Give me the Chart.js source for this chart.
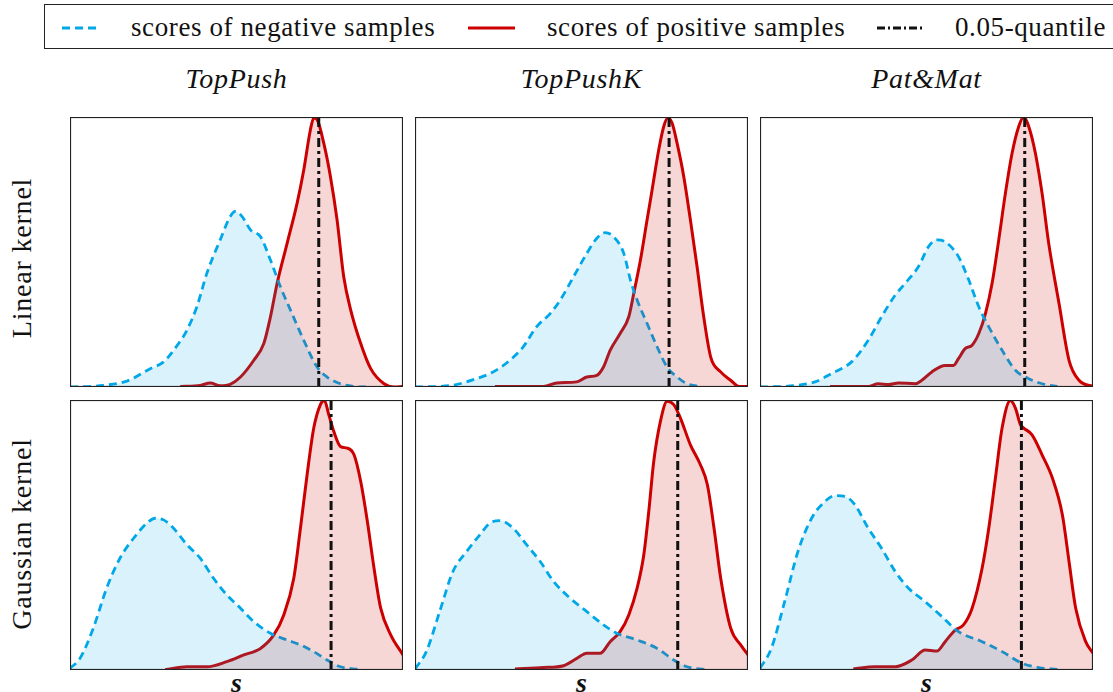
<!DOCTYPE html>
<html>
<head>
<meta charset="utf-8">
<script src="https://cdn.jsdelivr.net/npm/chart.js@4.4.1/dist/chart.umd.min.js"></script>
<style>
  body { margin: 0; width: 1113px; height: 692px; overflow: hidden; background: #fff; position: relative; font-family: "Liberation Serif", serif; color: #111; }
  .abs { position: absolute; }
  .legend { left: 44px; top: 4px; width: 1100px; height: 45px; border: 1.3px solid #222; box-sizing: border-box; }
  .ltext { position: absolute; top: 4px; height: 46px; line-height: 46px; font-size: 27px; letter-spacing: 0.6px; white-space: nowrap; }
  .title { position: absolute; width: 333px; text-align: center; top: 63px; line-height: 32px; font-size: 28px; letter-spacing: 0.7px; font-style: italic; }
  .rowlab { position: absolute; width: 270px; height: 32px; line-height: 32px; text-align: center; font-size: 28px; letter-spacing: 0.8px; transform: rotate(-90deg); white-space: nowrap; }
  .xlab { position: absolute; width: 333px; text-align: center; top: 667px; line-height: 32px; font-size: 28px; font-style: italic; font-weight: bold; }
  canvas { position: absolute; }
</style>
</head>
<body>
<div class="abs legend"></div>
<svg class="abs" style="left:0;top:0" width="1113" height="60">
  <line x1="62" y1="28" x2="101" y2="28" stroke="#00a8e8" stroke-width="3" stroke-dasharray="8,5"/>
  <line x1="468" y1="28" x2="515" y2="28" stroke="#cc0000" stroke-width="3"/>
  <line x1="877" y1="28" x2="925" y2="28" stroke="#111" stroke-width="3" stroke-dasharray="8,3,2,3"/>
</svg>
<div class="ltext" style="left:131px">scores of negative samples</div>
<div class="ltext" style="left:547px">scores of positive samples</div>
<div class="ltext" style="left:955px">0.05-quantile</div>
<div id="labels"></div>

<script>
// column / row headers
const methods = ['TopPush', 'TopPushK', 'Pat&Mat'];
const kernels = ['Linear kernel', 'Gaussian kernel'];
const xLabel = 's';

// density curves, [score, density] (both axes 0..100)
const negLinTopPush = [[0,0],[10,0.6],[17.1,2.2],[24.1,6.8],[28.1,9.3],[32.6,16.1],[35.1,21],[38.1,29.7],[41.1,42.1],[45.1,54.5],[48.1,63.1],[49.6,65],[51.7,63.1],[54.2,58.2],[57.2,55.7],[60.2,47],[63.2,37.1],[66.2,28.5],[70.2,17.3],[74.2,7.4],[77.2,3.7],[81.2,1.2],[85.3,0.2],[88.8,0]];
const posLinTopPush = [[33.1,0.2],[39.1,0.6],[42.1,1.5],[45.1,0.5],[48.1,1],[51.2,3.7],[55.2,9.9],[58.2,16.1],[60.2,26],[62.2,38.4],[65.2,53.2],[68.2,68.1],[70.2,80.4],[72.2,95.3],[73.2,99.6],[74.2,99],[76.2,90.3],[78.2,78],[80.2,61.9],[82.2,40.8],[84.3,28.5],[87.3,16.1],[90.3,6.8],[94.3,1.2],[97.3,0],[100,0.2]];

const negLinTopPushK = [[0,0],[10.4,0.5],[18.5,3.1],[23.5,5.6],[28.5,9.9],[32.5,14.9],[36.5,22.3],[40.6,27.2],[43.6,32.2],[47.6,40.8],[51.6,49.5],[54.6,55.1],[57.1,57.2],[59.6,55.7],[62.7,49.5],[64.7,39.6],[66.7,32.2],[69.7,23.5],[72.7,14.9],[75.7,7.4],[78.7,3.7],[81.7,1.2],[85.2,0.2]];
const posLinTopPushK = [[24,0.2],[38.6,0.2],[42.6,1.5],[48.6,1.9],[51.6,3.7],[54.6,4.3],[56.6,7.4],[58.6,13.6],[61.6,19.8],[64.2,26],[65.7,34.7],[67.7,47],[69.7,61.9],[71.2,73],[73.2,87.9],[74.7,96.5],[75.9,99.6],[77.2,97.8],[78.7,90.3],[80.7,78],[82.7,61.9],[84.7,44.6],[86.7,26],[88.8,11.1],[91.8,5.6],[94.8,2.5],[97.3,0.2],[100,0.2]];

const negLinPatMat = [[0,0],[10.4,0.5],[16.5,1.9],[21.5,5],[27.5,9.3],[32.5,17.3],[36.5,26],[40.6,34],[43.6,38.4],[47.6,44.6],[50.6,52],[53.1,54.5],[55.6,53.8],[59.6,48.3],[62.7,39.6],[65.7,29.7],[68.7,22.3],[72.7,13.6],[76.7,6.2],[80.7,3.1],[84.7,1.2],[89.3,0.2]];
const posLinPatMat = [[21,0.2],[32.5,0.2],[35.5,1.2],[38.6,0.9],[41.6,1.5],[46.6,1.2],[48.6,2.5],[51.6,5.6],[55.6,8],[58.1,8],[59.6,10.5],[61.6,14.2],[63.7,15.5],[65.7,19.8],[67.7,27.2],[69.7,38.4],[71.7,54.5],[73.7,71.8],[75.7,86.6],[77.7,96.5],[79.2,100],[80.7,96.5],[82.7,86.6],[84.7,71.8],[86.7,53.2],[89.8,30.9],[92.8,9.9],[95.8,2.5],[100,0.2]];

const negGauTopPush = [[0,0.6],[3,4.3],[7,15.5],[11,30.3],[15,41.4],[19.1,48.8],[23.1,54.4],[25.6,56.2],[28.1,55.6],[31.1,52.5],[35.1,46.4],[39.1,41.4],[43.1,34],[47.1,27.8],[51.2,22.9],[55.2,17.9],[60.2,13.6],[65.2,11.1],[69.2,9.3],[73.2,6.8],[77.2,3.7],[81.2,1.2],[86.8,0.2]];
const posGauTopPush = [[28.6,0.2],[35.1,1.2],[41.1,1.2],[47.1,3.1],[52.2,5.6],[57.2,8],[61.2,13],[64.2,20.4],[67.2,34],[69.2,52.5],[71.2,72.3],[73.2,89.6],[75.2,98.3],[76.4,99.8],[77.7,94.6],[79.2,88.4],[81.2,82.8],[83.2,82.2],[85.3,79.7],[87.3,69.8],[89.3,55],[91.3,37.7],[93.3,22.9],[96.3,13],[100,5.6]];

const negGauTopPushK = [[0,0.4],[3.4,6.8],[7.4,21.6],[11.4,36.5],[15.5,43.9],[19.5,50.1],[22.5,54.4],[25.5,55.3],[29.5,52.5],[33.5,46.4],[37.6,40.2],[41.6,32.8],[46.6,26.6],[51.6,21.6],[56.6,16.7],[60.6,13.6],[66.7,11.1],[72.7,8],[77.7,3.7],[81.7,1.2],[87.2,0.2]];
const posGauTopPushK = [[30,0.4],[38.6,0.9],[44.6,1.6],[48.6,4.3],[51.6,6.2],[55.6,6.2],[58.6,10.5],[61.6,14.2],[64.2,20.4],[66.7,30.3],[68.7,42.6],[70.2,58.7],[71.7,77.3],[73.7,92.1],[75.7,99.5],[77.7,98.3],[79.7,93.3],[82.7,83.4],[85.7,76],[87.8,68.6],[89.8,52.5],[91.8,34],[94.8,15.5],[97.8,9.3],[100,5.6]];

const negGauPatMat = [[0,0.6],[3.4,8],[7.4,25.3],[11.4,43.9],[15.5,56.2],[19.5,62.4],[22.5,64.6],[25.5,64.3],[28.5,61.2],[32.5,52.5],[36.5,45.1],[40.6,36.5],[44.6,30.3],[49.6,25.3],[54.6,19.8],[59.6,14.2],[66.7,10.5],[72.7,6.8],[78.7,2.5],[83.7,0.9],[89.3,0.2]];
const posGauPatMat = [[28,0.4],[34.5,1.2],[40.6,1.2],[45.6,3.7],[49.6,7.4],[53.1,7],[55.6,10.5],[58.6,14.8],[61.1,16.7],[63.7,22.9],[66.7,37.7],[68.7,52.5],[70.7,71.1],[72.7,89.6],[75.2,99.8],[76.7,97],[78.2,90.9],[79.2,89.6],[81.7,87.1],[84.7,79.7],[87.8,71.1],[90.8,57.5],[92.8,40.2],[94.8,22.9],[97.8,10.5],[100,6.2]];

// 0.05-quantile positions, row by row
const quantiles = [74.7, 76.3, 79.5, 78.4, 78.9, 78.5];

const negSets = [negLinTopPush, negLinTopPushK, negLinPatMat, negGauTopPush, negGauTopPushK, negGauPatMat];
const posSets = [posLinTopPush, posLinTopPushK, posLinPatMat, posGauTopPush, posGauTopPushK, posGauPatMat];

const colLeft = [70, 415, 760];
const rowTop = [117, 400];
const rowLabelY = [258, 534];
const panelW = 333, panelH = 270;

const labels = document.getElementById('labels');
methods.forEach((m, i) => {
  const d = document.createElement('div');
  d.className = 'title';
  d.style.left = colLeft[i] + 'px';
  d.innerText = m;
  labels.appendChild(d);

  const s = document.createElement('div');
  s.className = 'xlab';
  s.style.left = colLeft[i] + 'px';
  s.innerText = xLabel;
  labels.appendChild(s);
});
kernels.forEach((k, j) => {
  const d = document.createElement('div');
  d.className = 'rowlab';
  d.style.left = (22 - 135) + 'px';
  d.style.top = (rowLabelY[j] - 16) + 'px';
  d.innerText = k;
  labels.appendChild(d);
});

const frame = {
  id: 'frame',
  afterDraw(chart) {
    const { ctx, chartArea: a } = chart;
    ctx.save();
    ctx.strokeStyle = '#222';
    ctx.lineWidth = 1.2;
    ctx.strokeRect(a.left + 0.5, a.top + 0.5, a.right - a.left - 1, a.bottom - a.top - 1);
    ctx.restore();
  }
};

const toXY = arr => arr.map(([x, y]) => ({ x, y }));

for (let i = 0; i < 6; i++) {
  const c = document.createElement('canvas');
  c.width = panelW; c.height = panelH;
  c.style.left = colLeft[i % 3] + 'px';
  c.style.top = rowTop[Math.floor(i / 3)] + 'px';
  document.body.appendChild(c);

  const neg = toXY(negSets[i]);
  const pos = toXY(posSets[i]);
  const curve = { pointRadius: 0, cubicInterpolationMode: 'monotone' };

  // datasets with lower index are painted later: fills go over both curves
  new Chart(c, {
    type: 'line',
    data: {
      datasets: [
        {
          label: '0.05-quantile',
          data: [{ x: quantiles[i], y: 0 }, { x: quantiles[i], y: 100 }],
          borderColor: '#111',
          borderWidth: 3,
          borderDash: [9, 4, 3, 4],
          fill: false,
          pointRadius: 0
        },
        { ...curve, data: neg, borderWidth: 0, borderColor: 'rgba(0,0,0,0)', backgroundColor: 'rgba(0,168,232,0.15)', fill: 'origin' },
        { ...curve, data: pos, borderWidth: 0, borderColor: 'rgba(0,0,0,0)', backgroundColor: 'rgba(204,0,0,0.16)', fill: 'origin' },
        { ...curve, label: 'scores of negative samples', data: neg, borderColor: '#00a8e8', borderWidth: 2.8, borderDash: [8, 5], fill: false },
        { ...curve, label: 'scores of positive samples', data: pos, borderColor: '#cc0000', borderWidth: 3, fill: false }
      ]
    },
    options: {
      responsive: false,
      animation: false,
      layout: { padding: 0 },
      scales: {
        x: { type: 'linear', min: 0, max: 100, display: false },
        y: { min: 0, max: 100, display: false }
      },
      plugins: {
        legend: { display: false },
        tooltip: { enabled: false }
      }
    },
    plugins: [frame]
  });
}
</script>
</body>
</html>
